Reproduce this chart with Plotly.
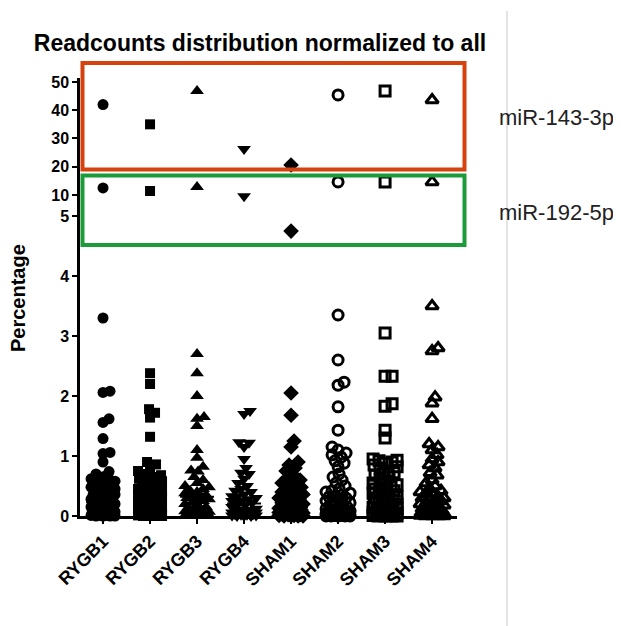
import plotly.graph_objects as go

# ---------------- data ----------------
categories = ["RYGB1", "RYGB2", "RYGB3", "RYGB4", "SHAM1", "SHAM2", "SHAM3", "SHAM4"]

mir143_3p = [42.0, 35.0, 46.8, 26.3, 20.6, 45.4, 46.8, 43.6]
mir192_5p = [12.5, 11.4, 12.8, 9.7, 1.4, 14.6, 14.6, 14.6]

RYGB1_low = [3.30, 2.08, 2.06, 1.62, 1.56, 1.29, 1.06, 1.04, 0.90, 0.74, 0.70, 0.66, 0.62, 0.60,
             0.58, 0.55, 0.52, 0.50, 0.47, 0.45, 0.42, 0.40, 0.38, 0.36, 0.34, 0.32, 0.30, 0.28,
             0.25, 0.22, 0.20, 0.18, 0.15, 0.12, 0.10, 0.09, 0.08, 0.07, 0.06, 0.05, 0.05, 0.04,
             0.03, 0.03, 0.02, 0.02, 0.01, 0.01, 0.00, 0.00, 0.00, 0.01, 0.02, 0.04, 0.06, 0.08,
             0.35, 0.40, 0.48, 0.55, 0.62, 0.30, 0.00, 0.03, 0.05]
RYGB2_low = [2.38, 2.20, 1.78, 1.72, 1.64, 1.32, 0.90, 0.86, 0.80, 0.75, 0.70, 0.68, 0.65, 0.62,
             0.60, 0.55, 0.50, 0.48, 0.45, 0.42, 0.40, 0.38, 0.35, 0.32, 0.30, 0.28, 0.25, 0.22,
             0.20, 0.18, 0.15, 0.12, 0.10, 0.08, 0.07, 0.06, 0.05, 0.04, 0.04, 0.03, 0.02, 0.02,
             0.01, 0.01, 0.00, 0.00, 0.00, 0.01, 0.03, 0.05, 0.07, 0.10, 0.30, 0.36, 0.45, 0.52,
             0.58, 0.66, 0.00, 0.02]
RYGB3_low = [2.70, 2.38, 2.00, 1.65, 1.62, 1.50, 1.10, 0.97, 0.82, 0.76, 0.74, 0.65, 0.60, 0.55,
             0.50, 0.45, 0.42, 0.38, 0.35, 0.33, 0.30, 0.28, 0.25, 0.22, 0.20, 0.18, 0.15, 0.12,
             0.10, 0.08, 0.06, 0.05, 0.04, 0.03, 0.02, 0.01, 0.00, 0.00, 0.02, 0.04, 0.07, 0.12,
             0.28, 0.33, 0.40, 0.48, 0.00, 0.01]
RYGB4_low = [1.75, 1.70, 1.23, 1.22, 1.15, 0.95, 0.80, 0.72, 0.70, 0.62, 0.55, 0.50, 0.45, 0.40,
             0.36, 0.32, 0.30, 0.28, 0.25, 0.22, 0.20, 0.18, 0.15, 0.12, 0.10, 0.09, 0.08, 0.06,
             0.05, 0.04, 0.03, 0.02, 0.01, 0.00, 0.00, 0.01, 0.02, 0.04, 0.06, 0.10, 0.26, 0.33,
             0.42, 0.00, 0.03]
SHAM1_low = [2.05, 1.68, 1.25, 1.15, 0.90, 0.85, 0.80, 0.75, 0.70, 0.62, 0.58, 0.55, 0.50, 0.45,
             0.40, 0.36, 0.32, 0.30, 0.28, 0.25, 0.22, 0.20, 0.18, 0.15, 0.13, 0.12, 0.10, 0.08,
             0.07, 0.06, 0.05, 0.04, 0.03, 0.02, 0.01, 0.00, 0.00, 0.00, 0.01, 0.02, 0.04, 0.06,
             0.09, 0.30, 0.38, 0.48, 0.60, 0.00, 0.03]
SHAM2_low = [3.35, 2.60, 2.23, 2.18, 1.82, 1.43, 1.15, 1.10, 1.05, 1.02, 0.98, 0.92, 0.88, 0.82,
             0.70, 0.65, 0.60, 0.55, 0.50, 0.45, 0.42, 0.38, 0.35, 0.32, 0.30, 0.28, 0.25, 0.22,
             0.20, 0.18, 0.15, 0.12, 0.10, 0.09, 0.08, 0.07, 0.06, 0.05, 0.04, 0.03, 0.03, 0.02,
             0.02, 0.01, 0.01, 0.00, 0.00, 0.00, 0.00, 0.01, 0.02, 0.04, 0.06, 0.08, 0.12, 0.18,
             0.26, 0.33, 0.40, 0.00, 0.02, 0.05]
SHAM3_low = [3.05, 2.33, 2.33, 1.87, 1.83, 1.43, 1.30, 0.95, 0.93, 0.90, 0.88, 0.85, 0.80, 0.75,
             0.72, 0.70, 0.65, 0.60, 0.55, 0.52, 0.50, 0.48, 0.45, 0.42, 0.40, 0.38, 0.35, 0.32,
             0.30, 0.28, 0.25, 0.22, 0.20, 0.18, 0.15, 0.12, 0.10, 0.08, 0.06, 0.05, 0.04, 0.03,
             0.02, 0.01, 0.00, 0.00, 0.00, 0.01, 0.02, 0.04, 0.07, 0.10, 0.14, 0.20, 0.27, 0.35,
             0.44, 0.55, 0.68, 0.82, 0.92, 0.00, 0.03]
SHAM4_low = [3.50, 2.80, 2.75, 1.98, 1.88, 1.62, 1.20, 1.15, 1.10, 1.02, 0.95, 0.90, 0.85, 0.80,
             0.72, 0.68, 0.60, 0.55, 0.50, 0.45, 0.42, 0.40, 0.36, 0.32, 0.30, 0.28, 0.25, 0.22,
             0.20, 0.18, 0.15, 0.12, 0.10, 0.08, 0.07, 0.06, 0.05, 0.04, 0.03, 0.02, 0.02, 0.01,
             0.00, 0.00, 0.00, 0.01, 0.02, 0.04, 0.06, 0.09, 0.13, 0.18, 0.24, 0.30, 0.38, 0.00,
             0.03]
low_values = [RYGB1_low, RYGB2_low, RYGB3_low, RYGB4_low, SHAM1_low, SHAM2_low, SHAM3_low, SHAM4_low]

medians = [0.23, 0.24, 0.32, 0.21, 0.14, 0.30, 0.33, 0.27]

y_low_ticks = [0, 1, 2, 3, 4]
y_mid_ticks = [5]
y_up_ticks = [10, 20, 30, 40, 50]

# ---------------- styling ----------------
symbols = ["circle", "square", "triangle-up", "triangle-down", "diamond",
           "circle-open", "square-open", "triangle-up-open"]
filled = [True, True, True, True, True, False, False, False]
sizes = [11, 10, 12, 12, 12, 10, 10, 11]

FONT = "Liberation Sans, Arial, Helvetica, sans-serif"
PX_PER_CAT = 47.0
PX_PER_UNIT = 60.0

# page is rendered with an 8px body margin; figure coordinates below are page pixels - 8
OFF = 8
W, H = 613, 618
PL, PT = 80 - OFF, 78 - OFF          # plot area left / top in figure pixels
PW, PH = 377, 438                   # plot area width / height


def px_x(page_x):
    return (page_x - 80) / PW


def px_y(page_y):
    return (516 - page_y) / PH


def swarm_offsets(values, d=6.5, maxw=12.0, step=1.0):
    """Beeswarm-style horizontal offsets (in category units) derived from the values."""
    order = sorted(range(len(values)), key=lambda k: values[k])
    placed = []
    offs = [0.0] * len(values)
    cands = [0.0]
    k = 1
    while k * step <= maxw:
        cands += [k * step, -k * step]
        k += 1
    for idx in order:
        y = values[idx] * PX_PER_UNIT
        best, best_score = 0.0, -1.0
        chosen = None
        for c in cands:
            md = min([((c - px) ** 2 + (y - py) ** 2) ** 0.5 for px, py in placed] or [1e9])
            if md >= d:
                chosen = c
                break
            if md > best_score:
                best_score, best = md, c
        if chosen is None:
            chosen = best
        placed.append((chosen, y))
        offs[idx] = chosen / PX_PER_CAT
    return offs


fig = go.Figure()

for i, cat in enumerate(categories):
    vals = low_values[i]
    offs = swarm_offsets(vals)
    if filled[i]:
        mk = dict(symbol=symbols[i], size=sizes[i], color="black", line=dict(width=0))
    else:
        mk = dict(symbol=symbols[i], size=sizes[i], color="black", line=dict(width=3, color="black"))
    fig.add_trace(go.Scatter(x=[i + o for o in offs], y=vals, mode="markers", marker=mk,
                             yaxis="y", cliponaxis=False, showlegend=False, name=cat))
    fig.add_trace(go.Scatter(x=[i - 0.36, i + 0.36], y=[medians[i], medians[i]], mode="lines",
                             line=dict(color="black", width=2), yaxis="y", showlegend=False,
                             cliponaxis=False))
    fig.add_trace(go.Scatter(x=[i], y=[mir143_3p[i]], mode="markers", marker=mk, yaxis="y3",
                             cliponaxis=False, showlegend=False))
    v = mir192_5p[i]
    fig.add_trace(go.Scatter(x=[i], y=[v], mode="markers", marker=mk,
                             yaxis="y3" if v >= 10 else "y2", cliponaxis=False, showlegend=False))

axis_common = dict(showline=True, linecolor="black", linewidth=2.5, ticks="outside",
                   ticklen=5, tickwidth=2, tickcolor="black", showgrid=False, zeroline=False,
                   tickfont=dict(family=FONT, size=16, color="black", weight="bold"))

fig.update_layout(
    width=W, height=H,
    margin=dict(l=PL, r=W - PL - PW, t=PT, b=H - PT - PH),
    paper_bgcolor="white", plot_bgcolor="white",
    title=dict(text="Readcounts distribution normalized to all", x=(260 - OFF) / W, xanchor="center",
               y=1 - (43 - OFF) / H, yanchor="middle",
               font=dict(family=FONT, size=23, color="black", weight="bold")),
    xaxis=dict(range=[-0.49, 7.53], tickmode="array", tickvals=list(range(len(categories))),
               ticktext=categories, tickangle=-45, anchor="y", automargin=False,
               **{**axis_common, "tickfont": dict(family=FONT, size=18, color="black", weight="bold")}),
    yaxis=dict(domain=[0, 0.637], range=[0, 4.65], tickvals=y_low_ticks, anchor="x",
               automargin=False, **axis_common),
    yaxis2=dict(domain=[0.637, 0.733], range=[0, 10], tickvals=y_mid_ticks, anchor="x",
                automargin=False, **axis_common),
    yaxis3=dict(domain=[0.733, 1], range=[10, 51.4], tickvals=y_up_ticks, anchor="x",
                automargin=False, **axis_common),
)

fig.add_annotation(text="Percentage", xref="paper", yref="paper", x=px_x(18), y=px_y(298),
                   xanchor="center", yanchor="middle", textangle=-90, showarrow=False,
                   font=dict(family=FONT, size=20, color="black", weight="bold"))
fig.add_annotation(text="miR-143-3p", xref="paper", yref="paper", x=px_x(497), y=px_y(117),
                   xanchor="left", yanchor="middle", showarrow=False,
                   font=dict(family=FONT, size=22, color="#222222"))
fig.add_annotation(text="miR-192-5p", xref="paper", yref="paper", x=px_x(497), y=px_y(212),
                   xanchor="left", yanchor="middle", showarrow=False,
                   font=dict(family=FONT, size=22, color="#222222"))

fig.add_shape(type="rect", xref="paper", yref="paper",
              x0=px_x(82.5), x1=px_x(464.5), y0=px_y(169.5), y1=px_y(63),
              line=dict(color="rgb(214,66,14)", width=4))
fig.add_shape(type="rect", xref="paper", yref="paper",
              x0=px_x(82.5), x1=px_x(464.5), y0=px_y(245), y1=px_y(175.5),
              line=dict(color="rgb(28,155,58)", width=4))
fig.add_shape(type="line", xref="paper", yref="paper",
              x0=px_x(507), x1=px_x(507), y0=px_y(626), y1=px_y(11),
              line=dict(color="#c8c8c8", width=1))

fig.write_html("out.html")
